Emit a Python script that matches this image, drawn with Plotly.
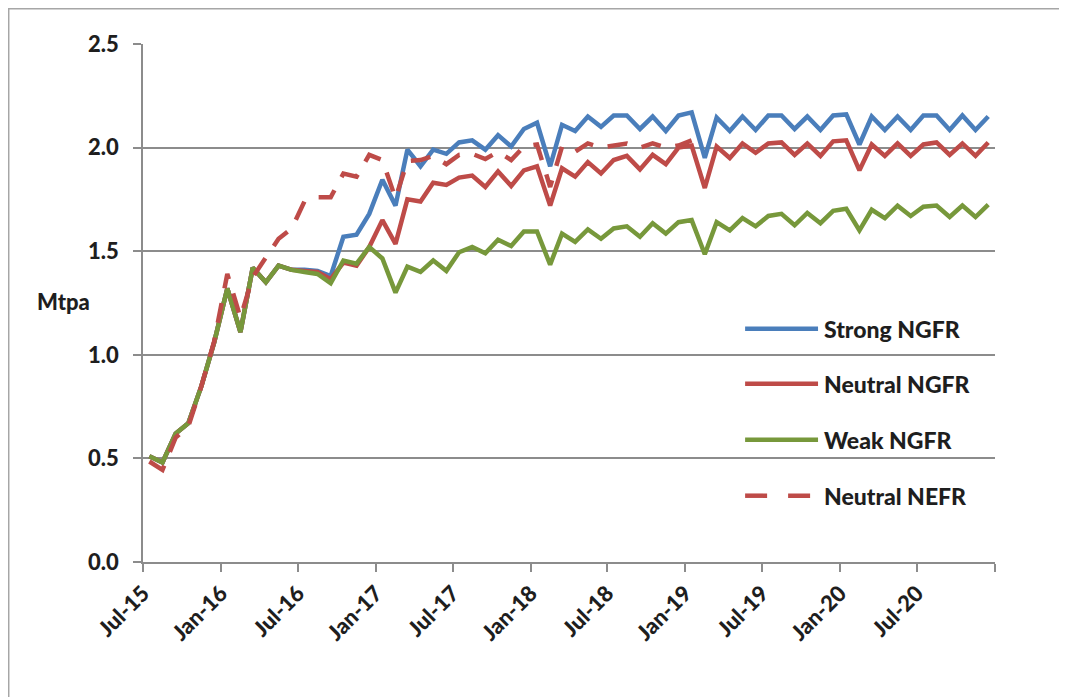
import pandas as pd
import plotly.graph_objects as go

# ---- data (monthly, Jul-15 .. Dec-20) ----
months = pd.date_range("2015-07-01", periods=66, freq="MS")
x_mid = months + pd.Timedelta(days=15)

strong_ngfr = [0.51, 0.48, 0.62, 0.67, 0.85, 1.06, 1.32, 1.11, 1.42, 1.35, 1.43, 1.41,
               1.41, 1.405, 1.38, 1.57, 1.58, 1.68, 1.845, 1.72, 1.99, 1.91, 1.99, 1.97,
               2.025, 2.035, 1.99, 2.06, 2.005, 2.09, 2.12, 1.91, 2.11, 2.08, 2.15, 2.10,
               2.155, 2.155, 2.09, 2.15, 2.08, 2.155, 2.17, 1.95, 2.145, 2.08, 2.15, 2.085,
               2.155, 2.155, 2.09, 2.15, 2.085, 2.155, 2.16, 2.015, 2.15, 2.085, 2.15, 2.085,
               2.155, 2.155, 2.085, 2.155, 2.085, 2.15]

neutral_ngfr = [0.51, 0.48, 0.62, 0.67, 0.85, 1.06, 1.32, 1.11, 1.42, 1.35, 1.43, 1.41,
                1.405, 1.40, 1.365, 1.445, 1.43, 1.52, 1.65, 1.535, 1.75, 1.74, 1.83, 1.82,
                1.855, 1.865, 1.81, 1.885, 1.815, 1.89, 1.91, 1.72, 1.90, 1.86, 1.93, 1.875,
                1.94, 1.96, 1.895, 1.965, 1.92, 2.0, 2.01, 1.805, 2.005, 1.95, 2.02, 1.975,
                2.02, 2.025, 1.965, 2.02, 1.96, 2.03, 2.035, 1.89, 2.015, 1.96, 2.02, 1.96,
                2.015, 2.025, 1.965, 2.02, 1.96, 2.025]

weak_ngfr = [0.51, 0.48, 0.62, 0.67, 0.85, 1.06, 1.32, 1.11, 1.42, 1.35, 1.43, 1.41,
             1.40, 1.39, 1.345, 1.455, 1.44, 1.52, 1.465, 1.30, 1.425, 1.40, 1.455, 1.405,
             1.495, 1.52, 1.49, 1.555, 1.525, 1.595, 1.595, 1.435, 1.585, 1.545, 1.605, 1.56,
             1.61, 1.62, 1.57, 1.635, 1.585, 1.64, 1.65, 1.485, 1.64, 1.60, 1.66, 1.62,
             1.67, 1.68, 1.625, 1.685, 1.635, 1.695, 1.705, 1.60, 1.70, 1.66, 1.72, 1.67,
             1.715, 1.72, 1.665, 1.72, 1.665, 1.725]

neutral_nefr = [0.485, 0.445, 0.60, 0.655, 0.85, 1.065, 1.39, 1.18, 1.375, 1.47, 1.56, 1.61,
                1.74, 1.76, 1.76, 1.875, 1.86, 1.965, 1.94, 1.755, 1.935, 1.94, 1.96, 1.92,
                1.965, 1.97, 1.945, 1.98, 1.94, 2.005, 2.015, 1.81, 2.005, 1.98, 2.02, 2.0,
                2.01, 2.02, 2.0, 2.02, 2.0, 2.01, 2.035]

tick_dates = pd.date_range("2015-07-01", "2021-01-01", freq="6MS")
tick_labels = ["Jul-15", "Jan-16", "Jul-16", "Jan-17", "Jul-17", "Jan-18",
               "Jul-18", "Jan-19", "Jul-19", "Jan-20", "Jul-20", ""]

series_names = ["Strong NGFR", "Neutral NGFR", "Weak NGFR", "Neutral NEFR"]
series_colors = ["#4A7EBB", "#BE4B48", "#77983B", "#BE4B48"]

FONT = "Lato"
GRID = "#8C8C8C"
TXT = "#1E1E1E"
LW = 4.5
DASH = "20px,15px"

fig = go.Figure()
fig.add_trace(go.Scatter(x=x_mid, y=strong_ngfr, mode="lines", name=series_names[0],
                         line=dict(color=series_colors[0], width=LW)))
fig.add_trace(go.Scatter(x=x_mid, y=neutral_ngfr, mode="lines", name=series_names[1],
                         line=dict(color=series_colors[1], width=LW)))
fig.add_trace(go.Scatter(x=x_mid, y=weak_ngfr, mode="lines", name=series_names[2],
                         line=dict(color=series_colors[2], width=LW)))
fig.add_trace(go.Scatter(x=x_mid[:len(neutral_nefr)], y=neutral_nefr, mode="lines",
                         name=series_names[3],
                         line=dict(color=series_colors[3], width=LW, dash=DASH)))

# page body adds an 8px offset, so the figure is 8px smaller and margins shifted
fig.update_layout(
    width=1059, height=689,
    margin=dict(l=135, r=72, t=36, b=135),
    paper_bgcolor="white", plot_bgcolor="white",
    showlegend=False,
    font=dict(family=FONT, color=TXT),
)

fig.update_xaxes(
    type="date",
    range=[tick_dates[0], tick_dates[-1]],
    tickmode="array", tickvals=tick_dates, ticktext=tick_labels,
    tickangle=-45,
    tickfont=dict(family=FONT, size=22, color=TXT, weight=900),
    ticks="outside", ticklen=8, tickwidth=1.5, tickcolor=GRID,
    showline=True, linecolor=GRID, linewidth=1.5,
    showgrid=False, zeroline=False,
)
fig.update_yaxes(
    range=[0, 2.5], tickmode="linear", tick0=0, dtick=0.5, tickformat=".1f",
    tickfont=dict(family=FONT, size=22, color=TXT, weight=900),
    ticks="outside", ticklen=8, tickwidth=1.5, tickcolor=GRID,
    ticklabelstandoff=10,
    showline=True, linecolor=GRID, linewidth=1.5,
    showgrid=True, gridcolor=GRID, gridwidth=1.5,
    zeroline=False,
)

# y-axis title "Mtpa" (horizontal)
fig.add_annotation(text="Mtpa", xref="paper", yref="paper",
                   x=-0.093, y=0.502, xanchor="center", yanchor="middle",
                   showarrow=False, font=dict(family=FONT, size=22, color=TXT, weight=900))

# custom legend with long line samples
leg_y = [0.4501, 0.3440, 0.2360, 0.1280]
for name, col, ly, dsh in zip(series_names, series_colors, leg_y,
                              ["solid", "solid", "solid", "22px,21px"]):
    fig.add_shape(type="line", xref="paper", yref="paper",
                  x0=0.7067, x1=0.7923, y0=ly, y1=ly,
                  line=dict(color=col, width=LW, dash=dsh))
    fig.add_annotation(text=name, xref="paper", yref="paper",
                       x=0.7965, y=ly, xanchor="left", yanchor="middle",
                       showarrow=False, font=dict(family=FONT, size=23, color=TXT, weight=900))

# outer chart frame (left and top edges visible), at the figure's edge
fig.add_shape(type="path", xref="paper", yref="paper",
              path="M -0.1576,-0.35 L -0.1576,1.068 L 1.2,1.068",
              line=dict(color="#A6A6A6", width=1.5))

fig.write_html("out.html")
